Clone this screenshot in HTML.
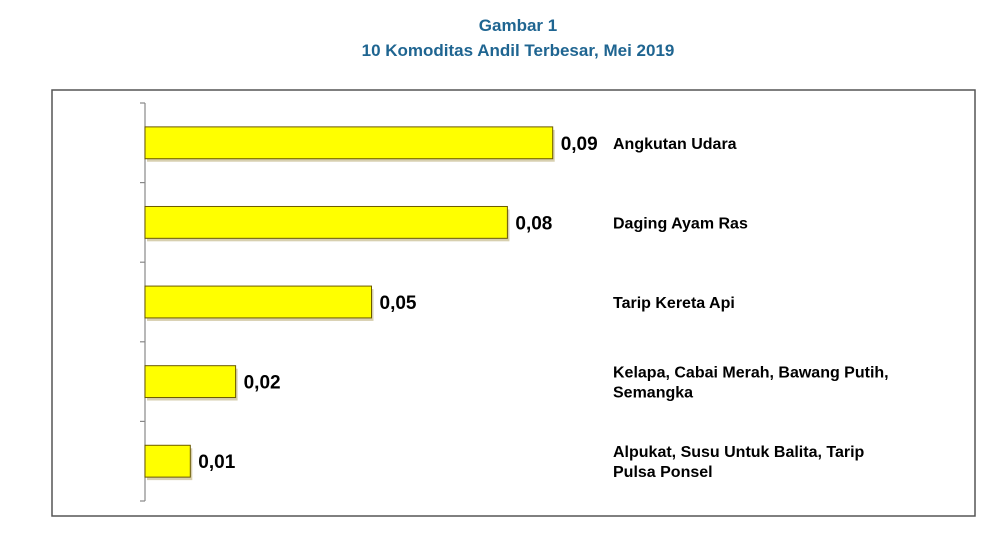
<!DOCTYPE html>
<html><head><meta charset="utf-8"><style>
body{margin:0;background:#fff;width:1000px;height:529px;overflow:hidden;font-family:"Liberation Sans",sans-serif}
</style></head><body>
<svg width="1000" height="529">
<text x="518" y="31" text-anchor="middle" font-size="17" font-weight="bold" fill="#1f6591">Gambar 1</text>
<text x="518" y="56" text-anchor="middle" font-size="17" font-weight="bold" fill="#1f6591">10 Komoditas Andil Terbesar, Mei 2019</text>
<rect x="52" y="90" width="923" height="426" fill="none" stroke="#555" stroke-width="1.5"/>
<g id="plot"></g>
</svg>
<script>
const categories=[["Angkutan Udara"],["Daging Ayam Ras"],["Tarip Kereta Api"],["Kelapa, Cabai Merah, Bawang Putih,","Semangka"],["Alpukat, Susu Untuk Balita, Tarip","Pulsa Ponsel"]];
const values=[0.09,0.08,0.05,0.02,0.01];
const valueLabels=["0,09","0,08","0,05","0,02","0,01"];
const NS="http://www.w3.org/2000/svg";
const plotG=document.getElementById('plot');
const x0=145,pxPer=4530,yTop=103,yBottom=501;
const band=(yBottom-yTop)/values.length;
const xs=v=>x0+v*pxPer;
const yb=i=>yTop+i*band;
function mk(t,a){const e=document.createElementNS(NS,t);for(const k in a)e.setAttribute(k,a[k]);plotG.appendChild(e);return e;}
let ax=mk('line',{x1:x0,y1:yTop,x2:x0,y2:yBottom,stroke:'#888','stroke-width':1.2});


for(let i=0;i<=values.length;i++){
 let t=mk('line',{x1:x0-5,y1:yb(i),x2:x0,y2:yb(i),stroke:'#888','stroke-width':1.2});
 
 
}
values.forEach((v,i)=>{
 const y=yb(i)+band*0.3,h=band*0.4;
 let s=mk('rect',{x:x0+2,y:y+3,width:xs(v)-x0,height:h,fill:'#b0a060',opacity:0.5});
 
 
 let r=mk('rect',{x:x0,y:y,width:xs(v)-x0,height:h,fill:'#ffff00',stroke:'#6b5a00','stroke-width':1});
 
 
 let t=mk('text',{x:xs(v)+8,y:y+h/2+7,'font-size':19,'font-weight':'bold',fill:'#000'});
 t.textContent=valueLabels[i];
 
 
 const lines=categories[i];
 lines.forEach((ln,j)=>{
  const cy=y+h/2+6+(j-(lines.length-1)/2)*20;
  let c=mk('text',{x:613,y:cy,'font-size':16,'font-weight':'bold',fill:'#000'});
  c.textContent=ln;
  
  
 });
});
</script>
</body></html>
